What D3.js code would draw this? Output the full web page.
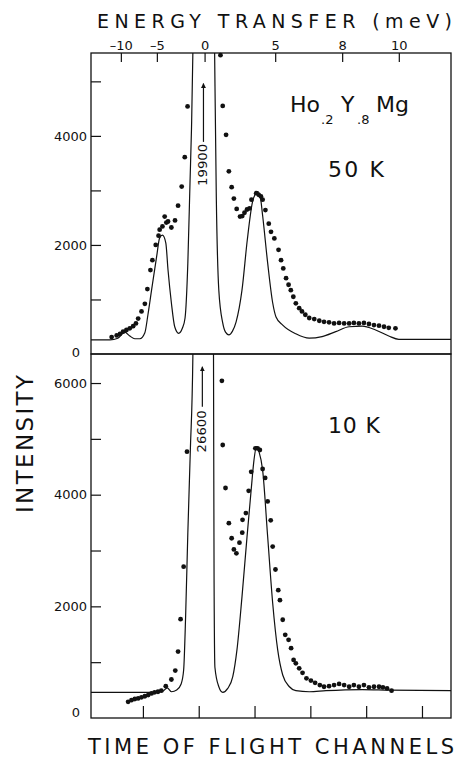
<!DOCTYPE html>
<html>
<head>
<meta charset="utf-8">
<script src="https://cdn.jsdelivr.net/npm/d3@7"></script>
<style>
    html, body { margin: 0; padding: 0; background: #fff; }
    svg { display: block; }
    text { font-family: "DejaVu Sans", sans-serif; fill: #111; }
</style>
</head>
<body>
<div id="chart"></div>
<script>
// time-of-flight channels on the bottom axis, energy transfer labels on top
const channelTicks = [60, 80, 100, 120, 140, 160];
const energyLabels = ["–10", "–5", "0", "5", "8", "10"];
const energyChannels = [52.1, 65.0, 82.1, 107.4, 131.4, 151.7];

// 50 K measured points
const warmChannels = [48.8, 50.6, 51.8, 52.9, 54.1, 55.3, 56.5, 57.5, 58.3, 59.5, 60.7, 61.6, 62.7, 63.4, 64.6, 65.6,
    66.0, 67.0, 67.8, 68.4, 69.0, 70.2, 71.5, 72.6, 73.9, 75.0, 76.0,
    87.8, 88.6, 89.8, 90.8, 91.8, 92.6, 93.6, 94.8, 95.6, 96.4, 97.3, 98.2, 98.9, 100.6, 101.5, 102.3, 102.9,
    103.9, 105.1, 105.9, 107.1, 108.6, 109.5, 110.3, 111.3, 112.2, 113.0, 113.9, 114.8, 116.0, 117.0, 118.2,
    119.6, 121.4, 123.2, 124.9, 126.7, 128.5, 130.3, 132.1, 133.9, 135.6, 137.4, 139.2, 141.0, 142.8, 144.6,
    146.4, 148.1, 150.5];
const warmCounts = [310, 340, 370, 410, 440, 470, 510, 560, 650, 780, 920, 1190, 1540, 1720, 2000, 2170,
    2280, 2340, 2520, 2410, 2430, 2320, 2450, 2720, 3070, 3610, 4540,
    5480, 4550, 4020, 3350, 3060, 2850, 2660, 2520, 2530, 2590, 2650, 2670, 2830, 2950, 2920, 2890, 2830,
    2640, 2390, 2240, 2120, 1910, 1720, 1570, 1390, 1270, 1170, 1050, 930, 840, 780, 720,
    660, 640, 610, 590, 580, 560, 570, 560, 560, 570, 560, 570, 550, 530, 520,
    500, 480, 470];

// 50 K calculated curve
const warmFitChannels = [41.4, 48.2, 51.0, 53.5, 55.3, 57.1, 58.9, 60.7, 61.8, 63.1, 64.9, 66.0, 67.0, 68.2, 69.0,
    70.2, 71.4, 72.8, 74.2, 75.1, 76.1, 76.9, 77.4, 77.9, 78.5, 81.7, 85.0, 85.7, 86.3, 87.2, 88.6, 89.6,
    90.8, 92.1, 93.4, 95.5, 97.4, 99.2, 100.3, 101.1, 102.0, 102.9, 104.7, 106.5, 107.7, 110.1, 114.8,
    119.6, 124.2, 129.1, 133.9, 138.6, 143.4, 148.1, 151.7, 170.4];
const warmFitCounts = [260, 260, 290, 400, 330, 280, 280, 390, 720, 1170, 1780, 2130, 2180, 2040, 1540,
    940, 500, 380, 480, 660, 1670, 3190, 4110, 5520, 9000, 19900, 9000, 5520, 2880, 1170, 570, 400,
    350, 420, 590, 1170, 2090, 2770, 2940, 2980, 2900, 2540, 1670, 940, 680, 530, 370,
    290, 320, 410, 500, 510, 440, 330, 270, 270];

// 10 K measured points
const coldChannels = [54.7, 55.9, 57.1, 58.3, 59.5, 60.7, 61.9, 63.1, 64.2, 65.4, 66.6, 68.2, 70.2, 71.6, 72.6,
    73.5, 74.6, 75.8,
    88.3, 88.6, 89.6, 90.8, 91.8, 92.6, 93.5, 94.6, 95.6, 95.7, 96.9, 97.9, 98.8, 100.3, 101.1, 101.9,
    102.9, 103.8, 104.7, 105.8, 106.5, 107.5, 108.5, 109.1, 110.1, 111.0, 112.2, 113.1, 114.0, 114.8,
    116.0, 117.2, 118.6, 120.2, 121.7, 123.4, 124.9, 126.7, 128.5, 130.3, 132.1, 133.9, 135.6, 137.4,
    139.2, 141.0, 142.8, 144.6, 146.0, 147.5, 149.1];
const coldCounts = [290, 320, 340, 350, 370, 390, 410, 440, 460, 470, 490, 570, 690, 850, 1190,
    1770, 2710, 4770,
    6040, 4890, 4120, 3490, 3220, 3020, 2950, 3140, 3320, 3550, 3670, 4070, 4410, 4830, 4830, 4800,
    4460, 4300, 3880, 3540, 3070, 2660, 2290, 2110, 1760, 1490, 1400, 1250, 1040, 980,
    890, 810, 710, 670, 630, 590, 560, 570, 590, 610, 590, 560, 590, 560,
    590, 550, 560, 560, 550, 530, 490];

// 10 K calculated curve
const coldFitChannels = [41.4, 64.6, 67.1, 68.7, 70.3, 72.1, 73.7, 74.6, 75.3, 76.1, 77.0, 77.9, 78.5, 81.7,
    84.8, 85.3, 85.5, 85.8, 87.2, 88.6, 90.4, 92.2, 93.7, 95.5, 97.3, 98.8, 99.8, 100.7, 101.6, 102.9,
    104.7, 106.5, 108.3, 110.1, 112.5, 114.8, 119.6, 125.6, 138.6, 148.1, 170.4];
const coldFitCounts = [460, 460, 480, 540, 470, 500, 610, 860, 1810, 3320, 4800, 6470, 12000, 26600,
    12000, 6470, 2470, 910, 560, 460, 530, 740, 1220, 2170, 3240, 4090, 4620, 4860, 4770, 4440,
    3250, 2060, 1220, 770, 560, 490, 470, 490, 510, 500, 490];

(function () {
    "use strict";

    const width = 463;
    const height = 759;
    const left = 91;
    const right = 451;

    const svg = d3.select("#chart").append("svg")
        .attr("width", width)
        .attr("height", height);

    svg.append("defs").append("marker")
        .attr("id", "arrow")
        .attr("viewBox", "0 0 10 10")
        .attr("refX", 9).attr("refY", 5)
        .attr("markerWidth", 5).attr("markerHeight", 7)
        .attr("markerUnits", "userSpaceOnUse")
        .attr("orient", "auto")
        .append("path")
        .attr("d", "M0,0L10,5L0,10Z")
        .attr("fill", "#111");

    const xScale = d3.scaleLinear()
        .domain([41.4, 170.4])
        .range([left, right]);

    const line = d3.line().curve(d3.curveMonotoneX);

    function drawPanel(cfg) {
        const yScale = d3.scaleLinear()
            .domain([0, cfg.yMax])
            .range([cfg.bottom, cfg.top]);

        const g = svg.append("g");
        const clipId = "clip-" + cfg.name;

        g.append("clipPath").attr("id", clipId)
            .append("rect")
            .attr("x", left).attr("y", cfg.top)
            .attr("width", right - left).attr("height", cfg.bottom - cfg.top);

        // calculated curve
        line.x(d => xScale(d[0])).y(d => yScale(d[1]));
        g.append("path")
            .datum(d3.zip(cfg.fitChannels, cfg.fitCounts))
            .attr("clip-path", "url(#" + clipId + ")")
            .attr("d", line)
            .attr("fill", "none")
            .attr("stroke", "#111")
            .attr("stroke-width", 1.2);

        // measured points
        g.selectAll("circle")
            .data(d3.zip(cfg.channels, cfg.counts))
            .join("circle")
            .attr("cx", d => xScale(d[0]))
            .attr("cy", d => yScale(d[1]))
            .attr("r", 2.4)
            .attr("fill", "#111");

        // inward ticks on the left
        g.append("g")
            .attr("transform", "translate(" + left + ",0)")
            .call(d3.axisRight(yScale).tickValues(cfg.ticks).tickSize(10).tickFormat(""))
            .call(a => a.select(".domain").remove())
            .selectAll("line").attr("stroke", "#111").attr("stroke-width", 1.2);

        g.append("g")
            .attr("transform", "translate(" + left + ",0)")
            .call(d3.axisLeft(yScale).tickValues(cfg.labels).tickSize(0).tickPadding(4).tickFormat(d3.format("d")))
            .call(a => a.select(".domain").remove())
            .selectAll("text")
            .attr("font-size", 13)
            .attr("font-family", "DejaVu Sans, sans-serif")
            .attr("fill", "#111");

        g.append("text")
            .attr("x", 76)
            .attr("y", yScale(0) + cfg.zeroShift)
            .attr("text-anchor", "middle")
            .attr("font-size", 13)
            .text("0");

        g.append("rect")
            .attr("x", left).attr("y", cfg.top)
            .attr("width", right - left).attr("height", cfg.bottom - cfg.top)
            .attr("fill", "none")
            .attr("stroke", "#111")
            .attr("stroke-width", 1.3);

        // off-scale elastic peak
        const ax = xScale(cfg.arrow.channel);
        g.append("line")
            .attr("x1", ax).attr("x2", ax)
            .attr("y1", yScale(cfg.arrow.from)).attr("y2", yScale(cfg.arrow.to))
            .attr("stroke", "#111")
            .attr("stroke-width", 1.2)
            .attr("marker-end", "url(#arrow)");

        g.append("text")
            .attr("transform", "translate(" + ax + "," + yScale(cfg.arrow.textAt) + ") rotate(-90)")
            .attr("text-anchor", "middle")
            .attr("dominant-baseline", "central")
            .attr("font-size", 12)
            .attr("textLength", 42)
            .attr("lengthAdjust", "spacingAndGlyphs")
            .text(cfg.arrow.label);

        g.append("text")
            .attr("x", cfg.tempX).attr("y", cfg.tempY)
            .attr("font-size", 22)
            .attr("textLength", cfg.tempLength)
            .attr("lengthAdjust", "spacing")
            .text(cfg.temp);

        return yScale;
    }

    drawPanel({
        name: "warm",
        top: 53, bottom: 354, yMax: 5520, zeroShift: 3,
        ticks: [1000, 2000, 3000, 4000, 5000],
        labels: [2000, 4000],
        channels: warmChannels, counts: warmCounts,
        fitChannels: warmFitChannels, fitCounts: warmFitCounts,
        arrow: { channel: 81.7, from: 3890, to: 4960, textAt: 3468, label: "19900" },
        temp: "50 K", tempX: 328, tempY: 177, tempLength: 56
    });

    drawPanel({
        name: "cold",
        top: 354, bottom: 718, yMax: 6520, zeroShift: -1,
        ticks: [1000, 2000, 3000, 4000, 5000, 6000],
        labels: [2000, 4000, 6000],
        channels: coldChannels, counts: coldCounts,
        fitChannels: coldFitChannels, fitCounts: coldFitCounts,
        arrow: { channel: 81.3, from: 5573, to: 6290, textAt: 5134, label: "26600" },
        temp: "10 K", tempX: 328, tempY: 433, tempLength: 52
    });

    // energy transfer axis along the top frame
    svg.append("g")
        .attr("transform", "translate(0,53)")
        .call(d3.axisTop(xScale)
            .tickValues(energyChannels)
            .tickSizeInner(-9).tickSizeOuter(0).tickPadding(3)
            .tickFormat((d, i) => energyLabels[i]))
        .call(a => a.select(".domain").remove())
        .call(a => a.selectAll("line").attr("stroke", "#111").attr("stroke-width", 1.2))
        .selectAll("text")
        .attr("font-size", 13)
        .attr("font-family", "DejaVu Sans, sans-serif")
        .attr("fill", "#111");

    // channel ticks along the bottom frame
    svg.append("g")
        .attr("transform", "translate(0,718)")
        .call(d3.axisTop(xScale).tickValues(channelTicks).tickSize(12).tickFormat(""))
        .call(a => a.select(".domain").remove())
        .selectAll("line").attr("stroke", "#111").attr("stroke-width", 1.2);

    svg.append("text")
        .attr("x", 97).attr("y", 28)
        .attr("font-size", 19)
        .attr("textLength", 355)
        .attr("lengthAdjust", "spacing")
        .text("ENERGY TRANSFER (meV)");

    svg.append("text")
        .attr("x", 88).attr("y", 754)
        .attr("font-size", 21)
        .attr("textLength", 366)
        .attr("lengthAdjust", "spacing")
        .text("TIME OF  FLIGHT CHANNELS");

    svg.append("text")
        .attr("transform", "translate(33,444) rotate(-90)")
        .attr("text-anchor", "middle")
        .attr("font-size", 23)
        .attr("textLength", 138)
        .attr("lengthAdjust", "spacing")
        .text("INTENSITY");

    // sample formula with subscripts
    const formula = svg.append("text")
        .attr("y", 112)
        .attr("font-size", 22);
    formula.append("tspan").attr("x", 290).text("Ho");
    formula.append("tspan").attr("x", 321).attr("y", 124).attr("font-size", 13).text(".2");
    formula.append("tspan").attr("x", 341).attr("y", 112).text("Y");
    formula.append("tspan").attr("x", 357).attr("y", 124).attr("font-size", 13).text(".8");
    formula.append("tspan").attr("x", 376).attr("y", 112).text("Mg");
}());
</script>
</body>
</html>
